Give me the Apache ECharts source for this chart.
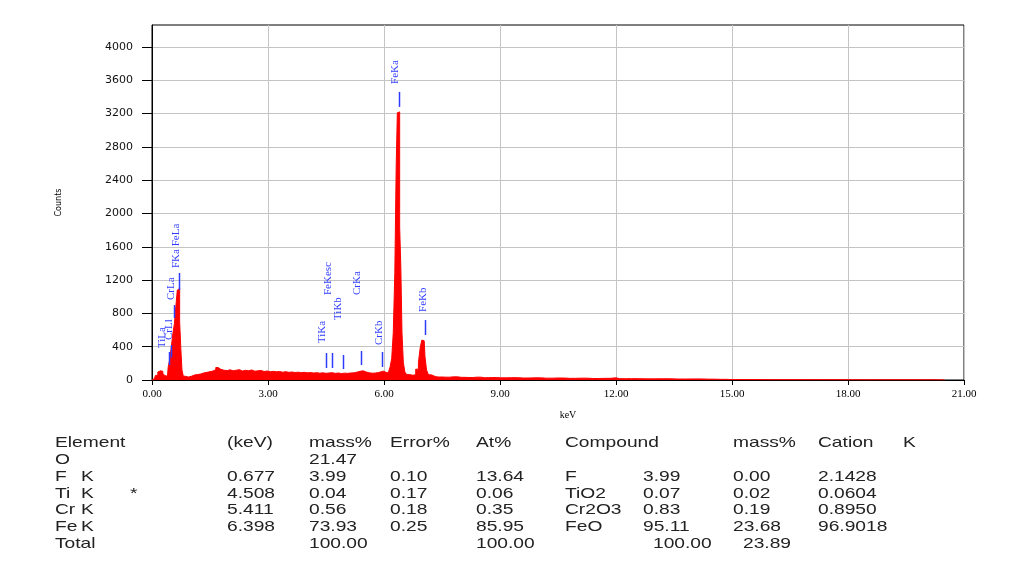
<!DOCTYPE html>
<html><head><meta charset="utf-8">
<script src="https://cdn.jsdelivr.net/npm/echarts@6/dist/echarts.min.js"></script>
<style>html,body{margin:0;padding:0;background:#fff}#c{width:1013px;height:577px}</style>
</head><body><div id="c"></div>
<script>
// ---- spectrum data (keV, counts) ----
const energyKeV = [0.00,0.06,0.12,0.18,0.22,0.26,0.30,0.35,0.40,0.44,0.48,0.52,0.56,0.60,0.64,0.67,0.70,0.73,0.76,0.79,0.83,0.90,0.98,
1.06,1.14,1.22,1.30,1.38,1.46,1.54,1.62,1.68,1.74,1.82,1.90,1.98,2.06,2.14,2.22,2.30,2.38,2.46,2.54,2.62,2.70,2.78,2.86,2.94,
3.02,3.10,3.18,3.26,3.34,3.42,3.50,3.58,3.66,3.74,3.82,3.90,3.98,4.06,4.14,4.22,4.30,4.38,4.46,4.54,4.62,4.70,4.78,4.86,4.94,
5.02,5.10,5.18,5.26,5.34,5.42,5.50,5.58,5.66,5.74,5.82,5.90,5.96,6.02,6.08,6.14,6.18,6.22,6.26,6.30,6.33,6.36,6.39,6.42,6.45,
6.48,6.52,6.56,6.62,6.70,6.78,6.86,6.92,6.96,7.00,7.04,7.08,7.12,7.18,7.26,7.40,7.60,7.80,8.00,8.20,8.40,8.60,8.80,9.00,9.30,
9.60,9.90,10.20,10.50,10.80,11.10,11.40,11.70,12.00,12.10,12.40,12.80,13.20,13.60,14.00,14.40,14.70,15.00,16.00,17.00,18.00,
19.00,20.00,20.46,20.50];
const counts = [0,15,55,95,110,105,80,55,45,160,250,400,560,680,900,1080,1100,700,380,120,45,35,45,
60,66,72,85,92,100,108,125,150,128,118,112,122,110,118,124,108,116,112,120,106,110,114,102,108,
100,104,98,102,94,100,92,96,90,94,88,92,86,90,84,88,82,86,80,84,88,80,84,78,82,
80,84,86,94,104,110,96,86,82,84,90,100,106,92,86,100,160,260,570,1290,2560,3210,3220,1840,1360,
570,210,95,65,58,62,130,210,400,480,470,280,120,62,42,36,34,38,32,30,34,28,30,26,28,
24,26,22,24,20,22,18,20,26,16,16,14,15,12,13,10,8,5,4,4,3,
3,3,2,0];

const xTicks = [0, 3, 6, 9, 12, 15, 18, 21];
const yTicks = [0, 400, 800, 1200, 1600, 2000, 2400, 2800, 3200, 3600, 4000];

// ---- peak identification markers ----
const markerKeV      = [0.452, 0.500, 0.573, 0.690, 4.508, 4.658, 4.931, 5.411, 5.946, 6.398, 7.057];
const markerNames    = ['TiLa', 'CrLl', 'CrLa', 'FKa FeLa', 'TiKa', 'FeKesc', 'TiKb', 'CrKa', 'CrKb', 'FeKa', 'FeKb'];
const markerLineLow  = [180, 270, 745, 1080, 144, 144, 132, 180, 156, 3280, 540];
const markerLineHigh = [336, 420, 900, 1285, 324, 324, 300, 348, 336, 3460, 720];
const markerLabelAt  = [384, 480, 961, 1345, 444, 1021, 721, 1021, 420, 3556, 817];

// ---- quantification table ----
const tableHeaders  = ['Element', '(keV)', 'mass%', 'Error%', 'At%', 'Compound', '', 'mass%', 'Cation', 'K'];
const elementNames  = ['O', 'F', 'Ti', 'Cr', 'Fe', 'Total'];
const elementShell  = ['', 'K', 'K', 'K', 'K', ''];
const elementFlag   = ['', '', '*', '', '', ''];
const lineKeV       = ['', '0.677', '4.508', '5.411', '6.398', ''];
const massPct       = ['21.47', '3.99', '0.04', '0.56', '73.93', '100.00'];
const errorPct      = ['', '0.10', '0.17', '0.18', '0.25', ''];
const atomPct       = ['', '13.64', '0.06', '0.35', '85.95', '100.00'];
const compoundNames = ['', 'F', 'TiO2', 'Cr2O3', 'FeO', ''];
const compoundMass  = ['', '3.99', '0.07', '0.83', '95.11', '100.00'];
const compoundMass2 = ['', '0.00', '0.02', '0.19', '23.68', '23.89'];
const cationK       = ['', '2.1428', '0.0604', '0.8950', '96.9018', ''];

// ---- layout ----
const colX = [55, 227, 309, 390, 476, 565, 643, 733, 818, 903];
const totalShift = [0, 0, 0, 0, 0, 0, 10, 10, 0, 0];
const markerLabelDx = [-7, -2, -3, -3, -4, -4, -5, -4, -3, -4, -2];
const rowY0 = 443, rowDy = 16.8;
const tableFont = '15px "Liberation Sans", Arial, sans-serif';
const stretch = 1.28;
const blue = '#2f3cff';

const chart = echarts.init(document.getElementById('c'));
const graphics = [];
function addText(txt, x, y) {
  if (!txt) return;
  graphics.push({type: 'text', x: x, y: y, scaleX: stretch,
    style: {text: txt, font: tableFont, fill: '#222', align: 'left', verticalAlign: 'middle',
            textAlign: 'left', textVerticalAlign: 'middle'}});
}
tableHeaders.forEach((h, i) => addText(h, colX[i], rowY0));
const columns = [elementNames, lineKeV, massPct, errorPct, atomPct, compoundNames, compoundMass, compoundMass2, cationK];
for (let r = 0; r < elementNames.length; r++) {
  const y = rowY0 + rowDy * (r + 1);
  const isTotal = r === elementNames.length - 1;
  columns.forEach((col, c) => addText(col[r], colX[c] + (isTotal ? totalShift[c] : 0), y));
  addText(elementShell[r], 81, y);
  addText(elementFlag[r], 130, y);
}

const option = {
  backgroundColor: '#fff',
  animation: false,
  grid: {left: 152, right: 49, top: 25, bottom: 197, show: true, borderColor: '#000', borderWidth: 1},
  xAxis: {
    type: 'value', min: 0, max: 21, interval: 3,
    name: 'keV', nameLocation: 'middle', nameGap: 30,
    nameTextStyle: {fontFamily: '"Liberation Serif", serif', fontSize: 10, color: '#000', padding: [0, 0, 0, 20]},
    axisLine: {lineStyle: {color: '#000'}},
    axisTick: {show: true, length: 5, lineStyle: {color: '#000'}},
    axisLabel: {margin: 9, fontFamily: '"Liberation Serif", serif', fontSize: 11, color: '#000',
                formatter: v => v.toFixed(2)},
    splitLine: {show: true, lineStyle: {color: '#c4c4c4', width: 1}}
  },
  yAxis: {
    type: 'value', min: 0, max: 4264, interval: 400,
    name: 'Counts', nameLocation: 'middle', nameGap: 89,
    nameTextStyle: {fontFamily: '"DejaVu Sans", sans-serif', fontSize: 8, color: '#000'},
    axisLine: {show: true, lineStyle: {color: '#000'}},
    axisTick: {show: true, length: 10, lineStyle: {color: '#000'}, customValues: yTicks},
    axisLabel: {margin: 19, fontFamily: '"DejaVu Sans", sans-serif', fontSize: 11, color: '#111',
                customValues: yTicks, formatter: v => String(v)},
    splitLine: {show: true, lineStyle: {color: '#c4c4c4', width: 1}}
  },
  series: [
    {
      type: 'line', step: 'middle', symbol: 'none', silent: true,
      data: energyKeV.map((e, i) => [e, counts[i]]),
      lineStyle: {color: '#ff0000', width: 1},
      itemStyle: {color: '#ff0000'},
      areaStyle: {color: '#ff0000', opacity: 1},
      z: 3
    },
    {
      type: 'custom', silent: true, z: 5,
      data: markerKeV.map((k, i) => [k, markerLineLow[i], markerLineHigh[i], markerLabelAt[i]]),
      encode: {x: 0, y: [1, 2, 3]},
      itemStyle: {color: blue},
      renderItem: function (params, api) {
        const k = api.value(0);
        const p1 = api.coord([k, api.value(1)]);
        const p2 = api.coord([k, api.value(2)]);
        const p3 = api.coord([k, api.value(3)]);
        const x = Math.round(p1[0]);
        return {type: 'group', children: [
          {type: 'rect', shape: {x: x - 0.25, y: p2[1], width: 1.5, height: p1[1] - p2[1]}, style: {fill: blue, stroke: null}},
          {type: 'text', x: x + markerLabelDx[params.dataIndex], y: p3[1], rotation: Math.PI / 2,
           style: {text: markerNames[params.dataIndex], font: '11px "Liberation Serif", serif', fill: blue,
                   align: 'left', verticalAlign: 'middle', textAlign: 'left', textVerticalAlign: 'middle'}}
        ]};
      }
    }
  ],
  graphic: graphics
};
chart.setOption(option);
</script>
</body></html>
